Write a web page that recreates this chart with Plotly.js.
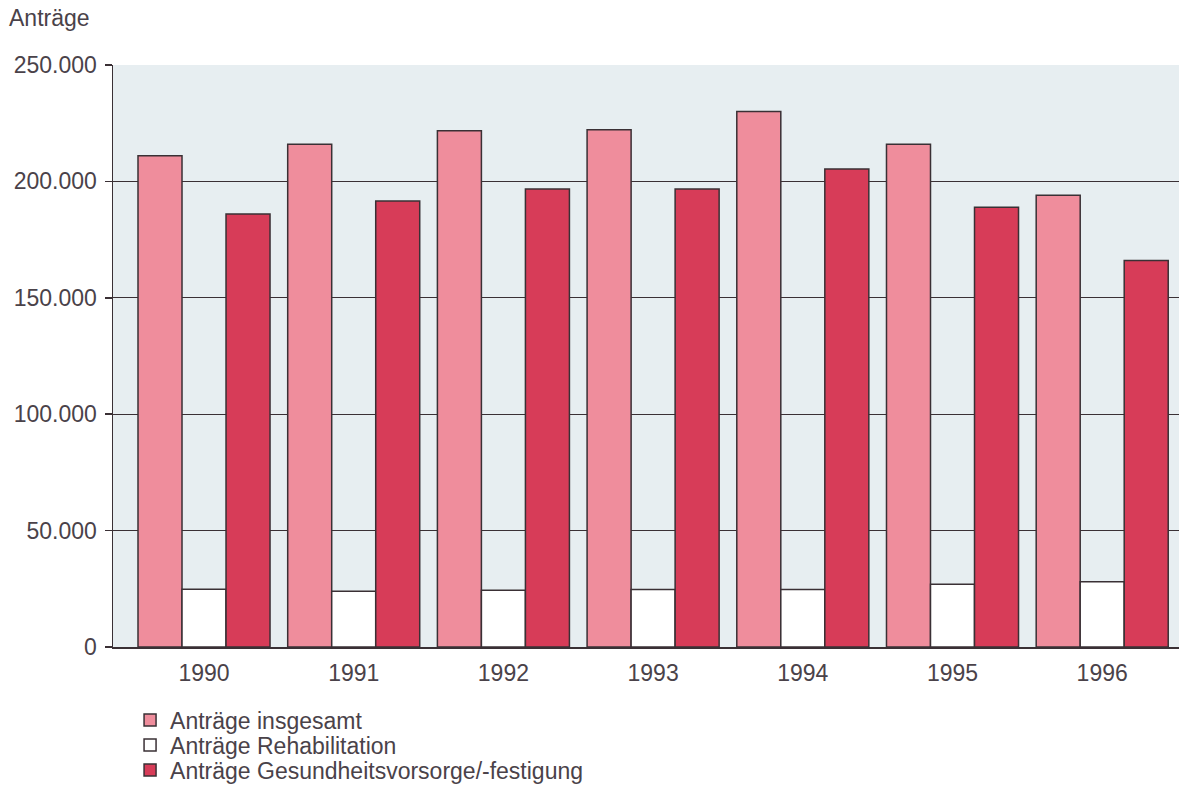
<!DOCTYPE html>
<html>
<head>
<meta charset="utf-8">
<script src="https://cdn.plot.ly/plotly-3.0.1.min.js"></script>
<style>html,body{margin:0;padding:0;background:#fff;}#chart{width:1179px;height:803px;}</style>
</head>
<body>
<div id="chart"></div>
<script>
const years = ['1990','1991','1992','1993','1994','1995','1996'];
const antraegeInsgesamt = [211000, 216000, 221800, 222200, 230000, 216000, 194000];
const antraegeReha = [24800, 24000, 24400, 24700, 24700, 27000, 28000];
const antraegeGesundheit = [186000, 191600, 196700, 196700, 205300, 188900, 166000];
const yTicks = [0, 50000, 100000, 150000, 200000, 250000];
const yTickLabels = ['0', '50.000', '100.000', '150.000', '200.000', '250.000'];

const txt = '#4a4249';
const edge = {color: '#3a3035', width: 1.5};

const traces = [
  {type: 'bar', name: 'Anträge insgesamt', x: years, y: antraegeInsgesamt,
   marker: {color: '#ef8d9c', line: edge}, legend: 'legend'},
  {type: 'bar', name: 'Anträge Rehabilitation', x: years, y: antraegeReha,
   marker: {color: '#ffffff', line: edge}, legend: 'legend2'},
  {type: 'bar', name: 'Anträge Gesundheitsvorsorge/-festigung', x: years, y: antraegeGesundheit,
   marker: {color: '#d73c58', line: edge}, legend: 'legend3'}
];

function leg(y) {
  return {x: 0.016, xanchor: 'left', y: y, yanchor: 'middle', orientation: 'v',
          font: {size: 23, color: txt}, bgcolor: 'rgba(0,0,0,0)', itemwidth: 30,
          borderwidth: 0};
}

const layout = {
  width: 1179, height: 803,
  margin: {l: 113, r: 0, t: 65, b: 156},
  paper_bgcolor: '#ffffff',
  plot_bgcolor: '#e7eef1',
  font: {family: 'Arial, "Liberation Sans", sans-serif', size: 23, color: txt},
  barmode: 'group',
  bargap: 0.118,
  bargroupgap: 0,
  showlegend: true,
  legend: leg(-0.1254),
  legend2: leg(-0.1684),
  legend3: leg(-0.2113),
  xaxis: {type: 'category', range: [-0.608, 6.513], showgrid: false, ticks: '',
          showline: true, linecolor: '#3a3035', linewidth: 1.5, zeroline: false,
          ticklabelstandoff: 5,
          tickfont: {size: 23, color: txt}, fixedrange: true},
  yaxis: {range: [0, 250000], tickvals: yTicks, ticktext: yTickLabels,
          showgrid: true, gridcolor: '#3a3035', gridwidth: 1.4,
          showline: true, linecolor: '#3a3035', linewidth: 1.5,
          ticks: 'outside', ticklen: 7, tickcolor: '#3a3035', tickwidth: 1.5,
          ticklabelstandoff: 3,
          zeroline: false, tickfont: {size: 23, color: txt}, fixedrange: true},
  annotations: [
    {text: 'Anträge', xref: 'paper', yref: 'paper', x: -0.099, y: 1.08,
     xanchor: 'left', yanchor: 'middle', showarrow: false,
     font: {size: 23, color: txt}}
  ]
};

Plotly.newPlot('chart', traces, layout, {displayModeBar: false, staticPlot: true});
</script>
</body>
</html>
